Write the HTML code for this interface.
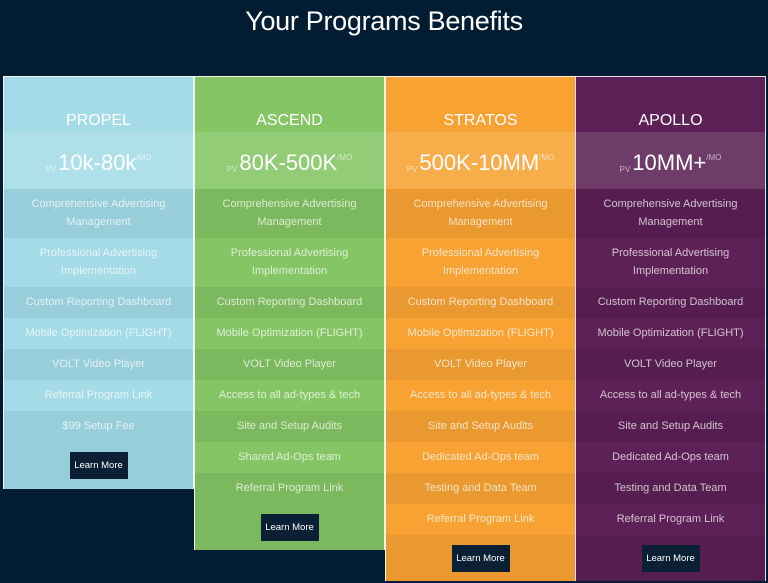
<!DOCTYPE html>
<html><head><style>
body{margin:0;width:768px;height:583px;background:#021d33;font-family:"Liberation Sans",sans-serif;position:relative;overflow:hidden}
h1{position:absolute;top:6px;left:0;width:768px;text-align:center;margin:0;color:#fff;font-weight:normal;font-size:27px;letter-spacing:-0.3px}
.col{position:absolute;top:76px;width:189px;border:1px solid rgba(255,255,255,0.85);box-sizing:content-box}
.hd{height:55px;line-height:88px;text-align:center;color:#fff;font-size:16px;overflow:hidden}
.pr{height:57px;line-height:52px;text-align:center;color:#fff;font-size:22px;overflow:hidden}
.pr small{font-size:8px;opacity:.6;vertical-align:-2px;margin-right:2px}
.pr sup{font-size:8px;opacity:.6;vertical-align:10px}
.r{height:31px;line-height:31px;text-align:center;color:rgba(255,255,255,.72);font-size:11px}
.r2{height:49px;line-height:18px;padding-top:6px;box-sizing:border-box}
.bt{text-align:center;padding-top:10px}
.bt span{display:inline-block;background:#0b1f35;color:#fff;font-size:9.5px;width:58px;height:27px;line-height:27px}
</style></head><body>
<h1>Your Programs Benefits</h1>

<div class="col" style="left:3px;background:#a4dbe6;height:411px">
<div class="hd">PROPEL</div>
<div class="pr" style="background:#afe0ea"><small>PV</small>10k-80k<sup>/MO</sup></div>
<div class="r r2" style="background:#98ced9">Comprehensive Advertising<br>Management</div>
<div class="r r2">Professional Advertising<br>Implementation</div>
<div class="r" style="background:#98ced9">Custom Reporting Dashboard</div>
<div class="r">Mobile Optimization (FLIGHT)</div>
<div class="r" style="background:#98ced9">VOLT Video Player</div>
<div class="r">Referral Program Link</div>
<div class="r" style="background:#98ced9">$99 Setup Fee</div>
<div class="bt" style="background:#98ced9;height:47px;box-sizing:border-box"><span>Learn More</span></div>
</div>

<div class="col" style="left:194px;background:#85c566;height:472px">
<div class="hd">ASCEND</div>
<div class="pr" style="background:#93cc76"><small>PV</small>80K-500K<sup>/MO</sup></div>
<div class="r r2" style="background:#7cb95e">Comprehensive Advertising<br>Management</div>
<div class="r r2">Professional Advertising<br>Implementation</div>
<div class="r" style="background:#7cb95e">Custom Reporting Dashboard</div>
<div class="r">Mobile Optimization (FLIGHT)</div>
<div class="r" style="background:#7cb95e">VOLT Video Player</div>
<div class="r">Access to all ad-types &amp; tech</div>
<div class="r" style="background:#7cb95e">Site and Setup Audits</div>
<div class="r">Shared Ad-Ops team</div>
<div class="r" style="background:#7cb95e">Referral Program Link</div>
<div class="bt" style="background:#7cb95e;height:46px;box-sizing:border-box"><span>Learn More</span></div>
</div>

<div class="col" style="left:385px;background:#f7a233;height:503px">
<div class="hd">STRATOS</div>
<div class="pr" style="background:#f8ad4b"><small>PV</small>500K-10MM<sup>/MO</sup></div>
<div class="r r2" style="background:#e9992f">Comprehensive Advertising<br>Management</div>
<div class="r r2">Professional Advertising<br>Implementation</div>
<div class="r" style="background:#e9992f">Custom Reporting Dashboard</div>
<div class="r">Mobile Optimization (FLIGHT)</div>
<div class="r" style="background:#e9992f">VOLT Video Player</div>
<div class="r">Access to all ad-types &amp; tech</div>
<div class="r" style="background:#e9992f">Site and Setup Audits</div>
<div class="r">Dedicated Ad-Ops team</div>
<div class="r" style="background:#e9992f">Testing and Data Team</div>
<div class="r">Referral Program Link</div>
<div class="bt" style="background:#e9992f;height:46px;box-sizing:border-box"><span>Learn More</span></div>
</div>

<div class="col" style="left:575px;background:#5e2157;height:503px">
<div class="hd">APOLLO</div>
<div class="pr" style="background:#6f3b69"><small>PV</small>10MM+<sup>/MO</sup></div>
<div class="r r2" style="background:#561e50">Comprehensive Advertising<br>Management</div>
<div class="r r2">Professional Advertising<br>Implementation</div>
<div class="r" style="background:#561e50">Custom Reporting Dashboard</div>
<div class="r">Mobile Optimization (FLIGHT)</div>
<div class="r" style="background:#561e50">VOLT Video Player</div>
<div class="r">Access to all ad-types &amp; tech</div>
<div class="r" style="background:#561e50">Site and Setup Audits</div>
<div class="r">Dedicated Ad-Ops team</div>
<div class="r" style="background:#561e50">Testing and Data Team</div>
<div class="r">Referral Program Link</div>
<div class="bt" style="background:#561e50;height:46px;box-sizing:border-box"><span>Learn More</span></div>
</div>
</body></html>
